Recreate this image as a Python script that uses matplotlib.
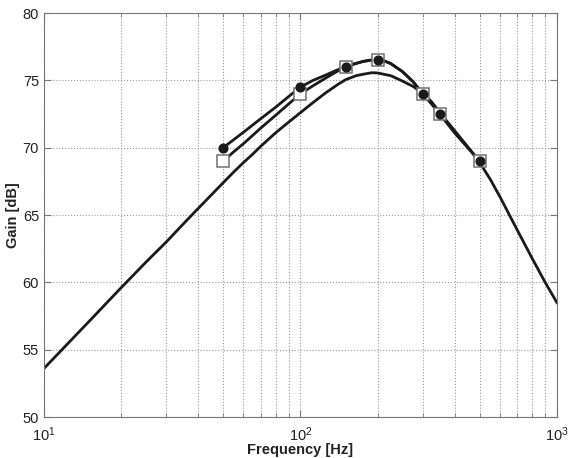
import matplotlib
matplotlib.use('Agg')
import matplotlib.pyplot as plt
from matplotlib.ticker import LogLocator, NullFormatter

plt.rcParams['font.family'] = ['Liberation Sans', 'DejaVu Sans']

# model curve
model_f = [10, 15, 20, 25, 30, 35, 40, 45, 50, 55, 60, 65, 70, 80, 90, 100,
           112, 125, 140, 150, 165, 175, 190, 200, 225, 250, 275, 300, 325,
           350, 400, 450, 500, 550, 600, 700, 800, 900, 1000]
model_g = [53.6, 57.1, 59.6, 61.5, 63.0, 64.35, 65.5, 66.5, 67.4, 68.2, 68.9,
           69.5, 70.1, 71.1, 71.9, 72.6, 73.35, 74.05, 74.7, 75.05, 75.35,
           75.45, 75.57, 75.55, 75.35, 74.95, 74.55, 74.05, 73.4, 72.6, 71.25,
           70.05, 68.9, 67.65, 66.35, 63.9, 61.8, 60.0, 58.5]

# measured lines
line_f = [50, 55, 60, 70, 80, 90, 100, 112, 125, 137, 150, 162, 175, 190,
          200, 212, 225, 250, 275, 300, 325, 350, 400, 450, 500]
circ_line = [70.0, 70.6, 71.15, 72.15, 73.0, 73.8, 74.5, 75.0, 75.38, 75.72,
             76.0, 76.22, 76.4, 76.52, 76.55, 76.45, 76.25, 75.65, 74.9, 74.0,
             73.25, 72.5, 71.1, 70.0, 69.0]
sq_line = [69.0, 69.7, 70.3, 71.45, 72.4, 73.25, 74.0, 74.6, 75.15, 75.6,
           76.0, 76.22, 76.4, 76.52, 76.55, 76.45, 76.25, 75.65, 74.9, 74.0,
           73.25, 72.5, 71.1, 70.0, 69.0]

# markers
mark_f = [50, 100, 150, 200, 300, 350, 500]
circ_g = [70.0, 74.5, 76.0, 76.5, 74.0, 72.5, 69.0]
sq_g = [69.0, 74.0, 76.0, 76.5, 74.0, 72.5, 69.0]

fig = plt.figure(figsize=(5.7, 4.58), dpi=100)
ax = fig.add_axes([0.077, 0.0895, 0.9, 0.882])

ax.semilogx(model_f, model_g, color='#1a1a1a', lw=2)
ax.semilogx(line_f, sq_line, color='#1a1a1a', lw=2)
ax.semilogx(line_f, circ_line, color='#1a1a1a', lw=2)
ax.plot(mark_f, sq_g, 's', ms=8.5, mfc='white', mec='#707070', mew=1.1, ls='none')
ax.plot(mark_f, circ_g, 'o', ms=6.3, mfc='#1a1a1a', mec='#1a1a1a', ls='none')

ax.set_xlim(10, 1000)
ax.set_ylim(50, 80)
ax.set_yticks([50, 55, 60, 65, 70, 75, 80])
ax.xaxis.set_major_locator(LogLocator(base=10))
ax.xaxis.set_minor_locator(LogLocator(base=10, subs=range(2, 10)))
ax.xaxis.set_minor_formatter(NullFormatter())

ax.grid(True, which='major', ls=':', color='#999999', lw=0.8)
ax.grid(True, which='minor', axis='x', ls=':', color='#999999', lw=0.8)

for s in ax.spines.values():
    s.set_color('#777777')
ax.tick_params(which='both', direction='in', top=True, right=True,
               colors='#777777', labelcolor='#222222', labelsize=10.5)
ax.tick_params(which='major', length=5)
ax.tick_params(which='minor', length=3)
ax.tick_params(axis='x', which='major', pad=6)

ax.set_xlabel('Frequency [Hz]', fontsize=10.5, fontweight='bold', color='#222222', labelpad=-1)
ax.set_ylabel('Gain [dB]', fontsize=10.5, fontweight='bold', color='#222222', labelpad=2)

fig.savefig('out.png', dpi=100)
